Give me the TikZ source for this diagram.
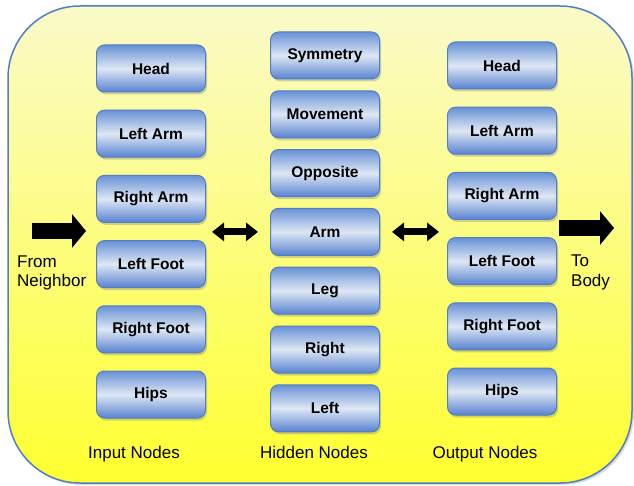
\documentclass[tikz,border=0pt]{standalone}
\usepackage{fontspec}
\setmainfont{Liberation Sans}
\usepackage{tikz}
\usetikzlibrary{arrows.meta, positioning, shadows}

\definecolor{boxtop}{RGB}{104,145,213}
\definecolor{boxmid}{RGB}{222,231,244}
\definecolor{boxbot}{RGB}{88,130,208}
\definecolor{boxline}{RGB}{79,126,196}
\definecolor{paleyellow}{RGB}{250,250,202}
\definecolor{deepyellow}{RGB}{255,255,48}

\begin{document}
\begin{tikzpicture}[
      x=1pt, y=-1pt,
      part/.style={draw=boxline, line width=1pt, rounded corners=8pt,
        top color=boxtop, bottom color=boxbot, middle color=boxmid,
        minimum width=109pt, minimum height=47pt, inner sep=0pt,
        font=\fontsize{15.5}{18}\selectfont\bfseries,
        drop shadow={shadow xshift=1.5pt, shadow yshift=-2.5pt, opacity=0.35}},
      sidelabel/.style={font=\fontsize{17}{19.5}\selectfont, align=left, inner sep=0pt},
      collabel/.style={font=\fontsize{17}{20}\selectfont, inner sep=0pt},
      blockarrow/.style={-{Triangle[length=14pt, width=33pt]}, line width=16pt},
      dblarrow/.style={{Triangle[length=12pt, width=18pt]}-{Triangle[length=12pt, width=18pt]}, line width=7pt}
    ]
    \useasboundingbox (0,0) rectangle (634,486);
    % background panel
    \path[draw=boxline, line width=1.5pt, rounded corners=72pt,
      top color=paleyellow, bottom color=deepyellow,
      drop shadow={shadow xshift=2pt, shadow yshift=-2pt, opacity=0.3}]
      (8,6) rectangle (632,483);

    % input nodes
    \node[part] (in-head) at (151,68.5) {Head};
    \node[part, below=17.2pt of in-head] (in-larm) {Left Arm};
    \node[part, below=17.2pt of in-larm] (in-rarm) {Right Arm};
    \node[part, below=17.2pt of in-rarm] (in-lfoot) {Left Foot};
    \node[part, below=17.2pt of in-lfoot] (in-rfoot) {Right Foot};
    \node[part, below=17.2pt of in-rfoot] (in-hips) {Hips};

    % hidden nodes
    \node[part] (hid-sym) at (325,55.5) {Symmetry};
    \node[part, below=10.8pt of hid-sym] (hid-move) {Movement};
    \node[part, below=10.8pt of hid-move] (hid-opp) {Opposite};
    \node[part, below=10.8pt of hid-opp] (hid-arm) {Arm};
    \node[part, below=10.8pt of hid-arm] (hid-leg) {Leg};
    \node[part, below=10.8pt of hid-leg] (hid-right) {Right};
    \node[part, below=10.8pt of hid-right] (hid-left) {Left};

    % output nodes
    \node[part] (out-head) at (502,65.5) {Head};
    \node[part, below=17.2pt of out-head] (out-larm) {Left Arm};
    \node[part, below=17.2pt of out-larm] (out-rarm) {Right Arm};
    \node[part, below=17.2pt of out-rarm] (out-lfoot) {Left Foot};
    \node[part, below=17.2pt of out-lfoot] (out-rfoot) {Right Foot};
    \node[part, below=17.2pt of out-rfoot] (out-hips) {Hips};

    % arrows
    \coordinate (nb) at (32,231);
    \coordinate (body) at (614,228);
    \draw[blockarrow] (nb) -- ([xshift=-10pt]in-rarm.west |- nb);
    \draw[blockarrow] ([xshift=2pt]out-rarm.east |- body) -- (body);
    \draw[dblarrow] ([xshift=6pt]in-rarm.east |- hid-arm.west) -- ([xshift=-12pt]hid-arm.west);
    \draw[dblarrow] ([xshift=12pt]hid-arm.east) -- ([xshift=-8pt]out-rarm.west |- hid-arm.east);

    % labels
    \node[sidelabel, anchor=base west] (from-lbl) at (17,287) {From\\Neighbor};
    \node[sidelabel, anchor=base west] (to-lbl) at (571,286) {To\\Body};
    \node[collabel, anchor=base] (in-lbl) at (134,458) {Input Nodes};
    \node[collabel, anchor=base] (hid-lbl) at (314,458) {Hidden Nodes};
    \node[collabel, anchor=base] (out-lbl) at (485,458) {Output Nodes};
  \end{tikzpicture}
\end{document}
